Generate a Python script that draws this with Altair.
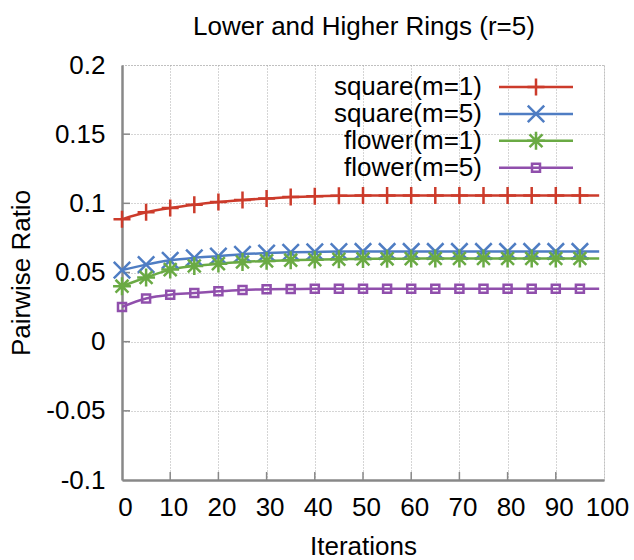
import altair as alt
import pandas as pd

# ---- data ----
iterations = [0, 5, 10, 15, 20, 25, 30, 35, 40, 45, 50, 55, 60, 65, 70, 75, 80, 85, 90, 95]
last_iter = 99
square_m1 = [0.0885, 0.0935, 0.0966, 0.0990, 0.1009, 0.1024, 0.1035, 0.1045, 0.1052, 0.1055,
             0.1056, 0.1056, 0.1056, 0.1056, 0.1056, 0.1056, 0.1056, 0.1056, 0.1056, 0.1056]
square_m5 = [0.0517, 0.0557, 0.0588, 0.0606, 0.0618, 0.0632, 0.0640, 0.0646, 0.0649, 0.0651,
             0.0652, 0.0652, 0.0652, 0.0652, 0.0652, 0.0652, 0.0652, 0.0652, 0.0652, 0.0652]
flower_m1 = [0.0401, 0.0464, 0.0521, 0.0547, 0.0564, 0.0576, 0.0584, 0.0589, 0.0593, 0.0596,
             0.0598, 0.0599, 0.0600, 0.0601, 0.0601, 0.0601, 0.0601, 0.0601, 0.0601, 0.0601]
flower_m5 = [0.0251, 0.0312, 0.0340, 0.0351, 0.0364, 0.0374, 0.0379, 0.0381, 0.0382, 0.0382,
             0.0383, 0.0383, 0.0383, 0.0383, 0.0383, 0.0383, 0.0383, 0.0383, 0.0383, 0.0383]
series_names = ["square(m=1)", "square(m=5)", "flower(m=1)", "flower(m=5)"]
series_values = [square_m1, square_m5, flower_m1, flower_m5]
x_ticks = [0, 10, 20, 30, 40, 50, 60, 70, 80, 90, 100]
y_ticks = [-0.1, -0.05, 0, 0.05, 0.1, 0.15, 0.2]
title_text = "Lower and Higher Rings (r=5)"

# ---- styling ----
colors = ["#cc3b2b", "#4f7dc3", "#6aaa44", "#904fac"]
shapes = [
    "M-1,0L1,0M0,-1L0,1",
    "M-1,-1L1,1M-1,1L1,-1",
    "M-1,0L1,0M0,-1L0,1M-0.72,-0.72L0.72,0.72M-0.72,0.72L0.72,-0.72",
    "square",
]
sizes = [290, 270, 320, 64]
W, H = 482, 415
FONT = "Liberation Sans"
FS = 26

rows = []
for name, vals in zip(series_names, series_values):
    for it, v in zip(iterations, vals):
        rows.append({"series": name, "iter": it, "value": v, "marker": True})
    rows.append({"series": name, "iter": last_iter, "value": vals[-1], "marker": False})
df = pd.DataFrame(rows)

color_scale = alt.Scale(domain=series_names, range=colors)
shape_scale = alt.Scale(domain=series_names, range=shapes)
size_scale = alt.Scale(type="ordinal", domain=series_names, range=sizes)

x_enc = alt.X("iter:Q", scale=alt.Scale(domain=[0, 100], nice=False),
              axis=alt.Axis(values=x_ticks, title="Iterations", grid=True, ticks=False,
                            tickSize=0, labelPadding=14, labelOffset=3, titlePadding=13,
                            labelFlush=False, format="d"))
y_enc = alt.Y("value:Q", scale=alt.Scale(domain=[-0.1, 0.2], nice=False),
              axis=alt.Axis(values=y_ticks, title="Pairwise Ratio", grid=True, ticks=False,
                            tickSize=0, labelPadding=17, titlePadding=11,
                            labelFlush=False, labelExpr="'' + datum.value"))

base = alt.Chart(df)

lines = base.mark_line(interpolate="monotone", strokeWidth=2.5, clip=True).encode(
    x=x_enc, y=y_enc,
    color=alt.Color("series:N", scale=color_scale, legend=None),
    detail="series:N",
)

points = base.transform_filter("datum.marker").mark_point(
    filled=False, strokeWidth=2.5, opacity=1
).encode(
    x="iter:Q", y="value:Q",
    color=alt.Color("series:N", scale=color_scale, legend=None),
    shape=alt.Shape("series:N", scale=shape_scale, legend=None),
    size=alt.Size("series:N", scale=size_scale, legend=None),
)

# inward tick marks (gnuplot style)
xt = pd.DataFrame({"t": x_ticks[1:-1]})
x_tick_marks = alt.Chart(xt).mark_rule(color="#888888", strokeWidth=1.5).encode(
    x="t:Q", y=alt.value(H), y2=alt.value(H - 8)
)
yt = pd.DataFrame({"t": y_ticks[1:-1]})
y_tick_marks = alt.Chart(yt).mark_rule(color="#888888", strokeWidth=1.5).encode(
    y="t:Q", x=alt.value(0), x2=alt.value(8)
)

# legend (text left of sample, gnuplot style)
LEG_TOP, LEG_STEP = 22, 26.9
leg = pd.DataFrame({"series": series_names})
leg["ly"] = [LEG_TOP + i * LEG_STEP for i in range(len(series_names))]

leg_text = alt.Chart(leg).mark_text(
    align="right", baseline="middle", font=FONT, fontSize=FS, color="black"
).encode(x=alt.value(360), y=alt.Y("ly:Q", scale=None), text="series:N")
leg_line = alt.Chart(leg).mark_rule(strokeWidth=2.5).encode(
    x=alt.value(377), x2=alt.value(451), y=alt.Y("ly:Q", scale=None),
    color=alt.Color("series:N", scale=color_scale, legend=None),
)
leg_pt = alt.Chart(leg).mark_point(filled=False, strokeWidth=2.5, opacity=1).encode(
    x=alt.value(414), y=alt.Y("ly:Q", scale=None),
    color=alt.Color("series:N", scale=color_scale, legend=None),
    shape=alt.Shape("series:N", scale=shape_scale, legend=None),
    size=alt.Size("series:N", scale=size_scale, legend=None),
)

# title as a text mark above the plot area
title_df = pd.DataFrame({"t": [title_text]})
title_mark = alt.Chart(title_df).mark_text(
    align="center", baseline="bottom", font=FONT, fontSize=FS, color="black"
).encode(x=alt.value(W / 2 + 1), y=alt.value(-25), text="t:N")

chart = alt.layer(
    lines, x_tick_marks, y_tick_marks, points, leg_line, leg_pt, leg_text, title_mark
).properties(
    width=W, height=H,
    autosize=alt.AutoSizeParams(type="none"),
    padding={"left": 122, "top": 65, "right": 30, "bottom": 80},
).configure(
    background="white"
).configure_view(
    stroke="#aaaaaa", strokeWidth=1, strokeDash=[1, 2]
).configure_axis(
    labelFont=FONT, titleFont=FONT, labelFontSize=FS, titleFontSize=FS,
    labelColor="black", titleColor="black", titleFontWeight="normal",
    domainColor="#888888", domainWidth=2.5,
    gridColor="#aaaaaa", gridDash=[1, 2], gridWidth=1, gridOpacity=1,
    labelOverlap=False,
)

chart.save("out.html", embed_options={"renderer": "svg", "actions": False})
